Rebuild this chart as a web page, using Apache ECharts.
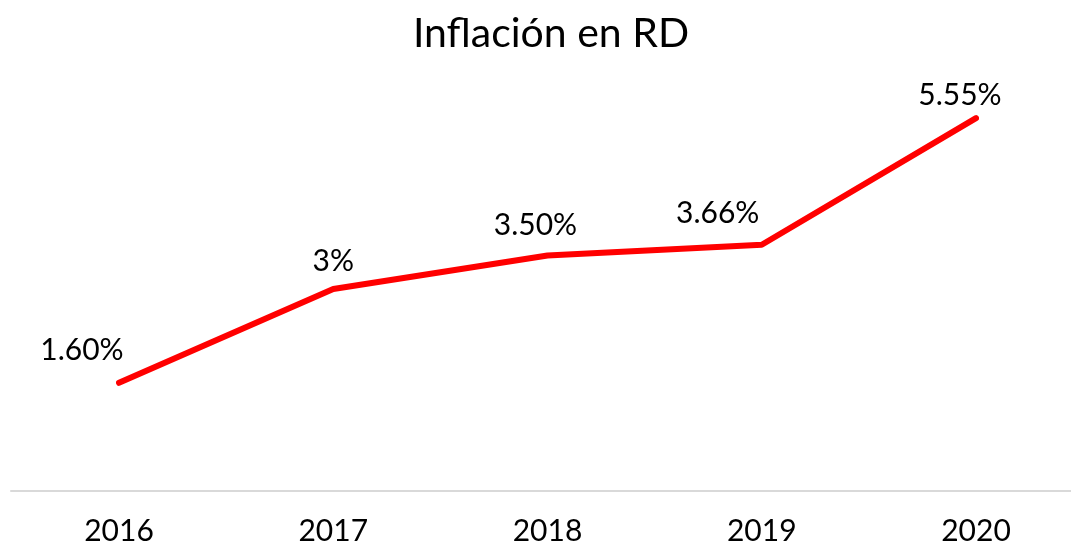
<!DOCTYPE html>
<html><head><meta charset="utf-8">
<script src="https://cdn.jsdelivr.net/npm/echarts@6/dist/echarts.min.js"></script>
<style>html,body{margin:0;padding:0;background:#fff}#c{width:1071px;height:546px}</style>
</head><body><div id="c"></div>
<script>
const categories = ['2016','2017','2018','2019','2020'];
const values = [1.60, 3.00, 3.50, 3.66, 5.55];
const labelTexts = ['1.60%','3%','3.50%','3.66%','5.55%'];
const labelOffsets = [[-37,-12],[0,-8],[-12,-10],[-44,-11],[-16,-3]];

const chart = echarts.init(document.getElementById('c'));
const FONT = 'Lato';
chart.setOption({
  animation:false,
  title:{text:'Inflación en RD',left:546,textAlign:'center',top:8,textStyle:{fontFamily:FONT,fontWeight:'normal',fontSize:41,color:'#000'}},
  grid:[
    {left:119,top:88,right:95,bottom:55,containLabel:false},
    {left:11,top:88,right:0,bottom:55,containLabel:false}
  ],
  xAxis:[
    {type:'category',data:categories,boundaryGap:false,gridIndex:0,
      axisLine:{show:false},axisTick:{show:false},
      axisLabel:{fontFamily:FONT,fontSize:30,color:'#000',margin:26}},
    {type:'category',data:categories,gridIndex:1,
      axisLine:{lineStyle:{color:'#d9d9d9',width:2}},axisTick:{show:false},axisLabel:{show:false}}
  ],
  yAxis:[
    {type:'value',min:0,max:6,show:false,splitLine:{show:false},gridIndex:0},
    {type:'value',min:0,max:6,show:false,splitLine:{show:false},gridIndex:1}
  ],
  series:[{type:'line',xAxisIndex:0,yAxisIndex:0,data:values.map((v,i)=>({value:v,label:{offset:labelOffsets[i],formatter:labelTexts[i]}})),
    symbol:'circle',symbolSize:0,showSymbol:true,lineStyle:{color:'#ff0000',width:6,cap:'round',join:'round'},
    itemStyle:{color:'#ff0000'},
    label:{show:true,position:'top',fontFamily:FONT,fontSize:30,color:'#000'}}]
});
</script></body></html>
